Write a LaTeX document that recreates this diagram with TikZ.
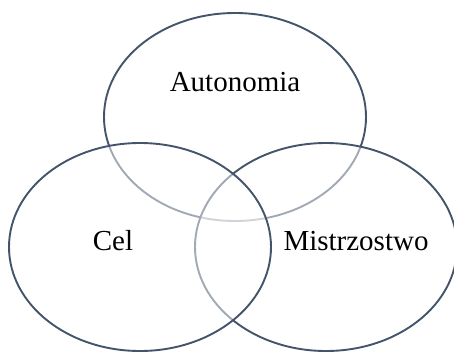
\documentclass[tikz,border=0pt]{standalone}
\usepackage{fontspec}
\setmainfont{Liberation Serif}
\usetikzlibrary{shapes.geometric}
\definecolor{rim}{HTML}{44546A}
\begin{document}
\begin{tikzpicture}[x=1pt,y=-1pt,
  setbox/.style={ellipse, draw=rim, line width=1.9pt, fill=white, fill opacity=0.5,
    minimum width=262pt, minimum height=208pt, inner sep=0pt},
  label/.style={anchor=base, font=\fontsize{29pt}{31pt}\selectfont, text=black}]
  \useasboundingbox (0,0) rectangle (454,351);
  % the three sets: top first, then right, then left
  \node[setbox] (top) at (235,117) {};
  \node[setbox] (right) at (326,247) {};
  \node[setbox] (left) at (140,247) {};
  % set names
  \node[label] (ta) at (235,91) {Autonomia};
  \node[label] (tc) at (113,250) {Cel};
  \node[label] (tm) at (356,250) {Mistrzostwo};
\end{tikzpicture}
\end{document}
